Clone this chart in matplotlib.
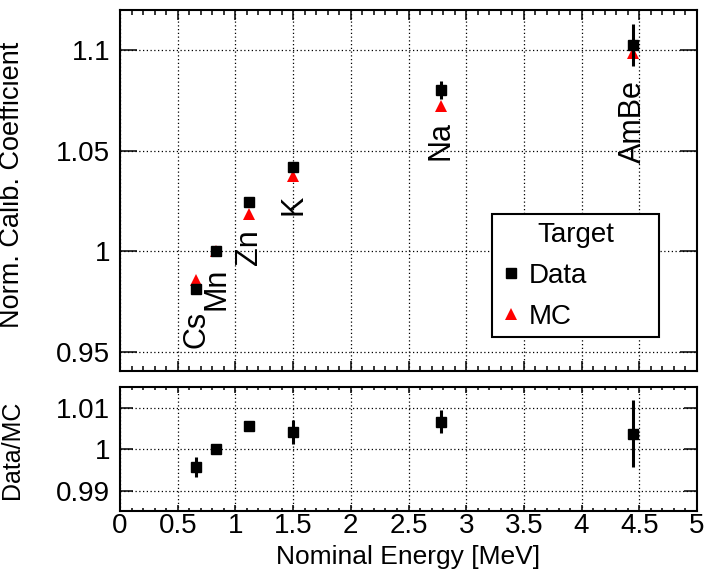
import matplotlib
matplotlib.use("Agg")
import matplotlib.pyplot as plt
from matplotlib.ticker import FixedLocator, MultipleLocator, NullLocator
from matplotlib.lines import Line2D

plt.rcParams['font.family'] = ['Liberation Sans', 'DejaVu Sans']

# ---------------- data ----------------
sources = ["Cs", "Mn", "Zn", "K", "Na", "AmBe"]
energy = [0.662, 0.835, 1.12, 1.502, 2.78, 4.443]

data_coef = [0.9814, 1.0000, 1.0246, 1.0420, 1.0800, 1.1026]
data_err = [0.0020, 0.0005, 0.0005, 0.0020, 0.0045, 0.0105]
mc_coef = [0.9859, 1.0000, 1.0183, 1.0374, 1.0723, 1.0984]

ratio = [0.9957, 1.0000, 1.0057, 1.0043, 1.0067, 1.0038]
ratio_err = [0.0024, 0.0005, 0.0005, 0.0029, 0.0028, 0.0082]

label_y = [0.9518, 0.9707, 0.9930, 1.0179, 1.0452, 1.0437]

x_ticks = [0, 0.5, 1, 1.5, 2, 2.5, 3, 3.5, 4, 4.5, 5]
x_ticklabels = ["0", "0.5", "1", "1.5", "2", "2.5", "3", "3.5", "4", "4.5", "5"]
top_yticks = [0.95, 1.0, 1.05, 1.1]
top_yticklabels = ["0.95", "1", "1.05", "1.1"]
bot_yticks = [0.99, 1.0, 1.01]
bot_yticklabels = ["0.99", "1", "1.01"]

# ---------------- figure ----------------
W, H = 705, 574
fig = plt.figure(figsize=(W / 100, H / 100), dpi=100)
ax1 = fig.add_axes([120 / W, 1 - 371 / H, 577 / W, 361 / H])
ax2 = fig.add_axes([120 / W, 1 - 510.7 / H, 577 / W, 123.4 / H])

grid_kw = dict(color="black", linestyle=(0, (1, 2)), linewidth=0.9)

for ax in (ax1, ax2):
    for s in ax.spines.values():
        s.set_linewidth(1.5)
    ax.set_xlim(0, 5)
    ax.xaxis.set_major_locator(FixedLocator(x_ticks))
    ax.xaxis.set_minor_locator(MultipleLocator(0.1))
    ax.yaxis.set_minor_locator(NullLocator())
    ax.grid(True, which="major", **grid_kw)
    ax.set_axisbelow(True)

# top panel
ax1.set_ylim(0.9404, 1.12)
ax1.yaxis.set_major_locator(FixedLocator(top_yticks))
ax1.set_yticklabels(top_yticklabels)
ax1.tick_params(axis="x", which="major", direction="in", length=7.2, width=1.1,
                top=True, bottom=True, labelbottom=False)
ax1.tick_params(axis="x", which="minor", direction="in", length=3.6, width=1.1,
                top=True, bottom=True)
ax1.tick_params(axis="y", which="major", direction="in", length=12, width=1.1,
                left=True, right=True, labelsize=20, pad=7)

ax1.plot(energy, mc_coef, linestyle="none", marker="^", markersize=8,
         color="#ff0000", markeredgewidth=0, zorder=3)
ax1.errorbar(energy, data_coef, yerr=data_err, fmt="s", color="black",
             markersize=7.5, elinewidth=2.2, capsize=0, zorder=4)

for xs, ys, name in zip(energy, label_y, sources):
    ax1.text(xs, ys, name, rotation=90, ha="center", va="bottom", fontsize=22)

ax1.set_ylabel("Norm. Calib. Coefficient", fontsize=19.5)
ax1.yaxis.set_label_coords(-0.1646, 0.515)

h_data = Line2D([], [], linestyle="none", marker="s", color="black", markersize=7)
h_mc = Line2D([], [], linestyle="none", marker="^", color="#ff0000",
              markersize=8, markeredgewidth=0)
leg = ax1.legend([h_data, h_mc], ["Data", "MC"], title="Target",
                 fontsize=20, title_fontsize=20,
                 loc="lower left", bbox_to_anchor=(0.644, 0.093, 0.291, 0.356),
                 mode="expand", borderaxespad=0, borderpad=0.26,
                 labelspacing=0.55, handlelength=0.86, handletextpad=0.2,
                 fancybox=False, framealpha=1, edgecolor="black")
leg.get_frame().set_linewidth(1.5)

# bottom panel
ax2.set_ylim(0.98512, 1.01503)
ax2.yaxis.set_major_locator(FixedLocator(bot_yticks))
ax2.set_yticklabels(bot_yticklabels)
ax2.set_xticklabels(x_ticklabels)
ax2.tick_params(axis="x", which="major", direction="in", length=4.3, width=1.1,
                top=True, bottom=True, labelsize=20, pad=2)
ax2.tick_params(axis="x", which="minor", direction="in", length=2.2, width=1.1,
                top=True, bottom=True)
ax2.tick_params(axis="y", which="major", direction="in", length=9.4, width=1.1,
                left=True, right=True, labelsize=20, pad=7)

ax2.errorbar(energy, ratio, yerr=ratio_err, fmt="s", color="black",
             markersize=7.5, elinewidth=2.2, capsize=0, zorder=4)

ax2.set_ylabel("Data/MC", fontsize=18)
ax2.yaxis.set_label_coords(-0.167, 0.492)
ax2.set_xlabel("Nominal Energy [MeV]", fontsize=19)

fig.savefig("out.png", dpi=100)
